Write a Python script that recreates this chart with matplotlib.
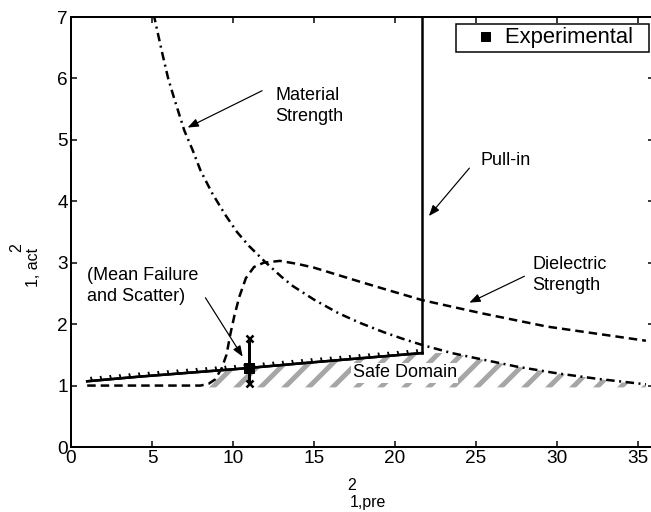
import matplotlib
matplotlib.use("Agg")
import matplotlib.pyplot as plt
import matplotlib.patheffects as pe
from matplotlib.lines import Line2D

plt.rcParams['font.family'] = ['Liberation Sans', 'DejaVu Sans']
plt.rcParams['hatch.linewidth'] = 5.0

# ---- data ----
material_x = [5.1, 5.6, 6.0, 6.4, 7.0, 7.5, 8.0, 8.7, 9.5, 10.25, 11.0, 12.0, 13.0,
              13.7, 15.0, 16.5, 17.85, 19.3, 20.5, 21.7, 23.5, 25.3, 27.5, 30.0, 32.5, 35.5]
material_y = [7.05, 6.45, 6.0, 5.65, 5.15, 4.84, 4.5, 4.14, 3.79, 3.5, 3.27, 3.01, 2.77,
              2.62, 2.4, 2.18, 2.02, 1.87, 1.76, 1.66, 1.53, 1.43, 1.31, 1.2, 1.11, 1.02]

dielectric_x = [1.0, 8.0, 8.5, 8.9, 9.3, 9.6, 9.85, 10.1, 10.4, 10.8, 11.3, 11.9, 12.9,
                14.0, 15.0, 17.85, 19.5, 21.7, 25.3, 29.4, 35.5]
dielectric_y = [1.0, 1.0, 1.03, 1.1, 1.28, 1.5, 1.85, 2.15, 2.45, 2.75, 2.93, 3.0, 3.03,
                2.98, 2.92, 2.69, 2.56, 2.39, 2.18, 1.96, 1.73]

ticked_x = [1.0, 4.2, 10.25, 15.0, 21.7]
ticked_y = [1.07, 1.145, 1.27, 1.38, 1.53]

pullin_x = [21.7, 21.7]
pullin_y = [1.53, 7.0]

exp_x = 11.0
exp_mean = 1.28
exp_min = 1.05
exp_max = 1.78

safe_x = [7.8, 8.5, 8.9, 9.3, 21.7, 23.5, 25.3, 27.5, 30.0, 32.5, 35.5]
safe_top = [1.0, 1.03, 1.1, 1.24, 1.53, 1.53, 1.43, 1.31, 1.2, 1.11, 1.0]
safe_bottom = 0.97

xticks = [0, 5, 10, 15, 20, 25, 30, 35]
yticks = [0, 1, 2, 3, 4, 5, 6, 7]

# ---- figure ----
W, H = 651, 512
fig = plt.figure(figsize=(W / 72, H / 72), dpi=72)
ax = fig.add_axes([71 / W, (H - 447) / H, 583 / W, 430 / H])
ax.set_xlim(0, 36)
ax.set_ylim(0, 7)

# safe domain hatch
ax.fill_between(safe_x, safe_bottom, safe_top, facecolor='none', edgecolor='#a6a6a6',
                hatch='/', linewidth=0, zorder=1)

LW = 2.5
# material strength (dash-dot)
ax.plot(material_x, material_y, color='black', lw=LW, dashes=(3.4, 1.8, 0.8, 1.8), zorder=3)
# dielectric strength (dashed)
ax.plot(dielectric_x, dielectric_y, color='black', lw=LW, dashes=(3.4, 2.0), zorder=3)
# pull-in
ax.plot(pullin_x, pullin_y, color='black', lw=LW, zorder=3)
# ticked curve
ax.plot(ticked_x, ticked_y, color='black', lw=LW, zorder=4,
        path_effects=[pe.Stroke(linewidth=LW, foreground='black'),
                      pe.withTickedStroke(spacing=9.5, angle=100, length=0.35, linewidth=1.8)])

# experimental
ax.plot([exp_x, exp_x], [exp_min, exp_max], color='black', lw=3, zorder=5)
ax.plot([exp_x, exp_x], [exp_min, exp_max], ls='none', marker='x', ms=7, mew=2.5,
        color='black', zorder=5)
ax.plot([exp_x], [exp_mean], ls='none', marker='s', ms=10, color='black', zorder=6)

# annotations
arrow = dict(arrowstyle='-|>,head_length=0.9,head_width=0.35', color='black', lw=1.2,
             shrinkA=0, shrinkB=0)
fs = 18
ax.text(12.6, 5.55, 'Material\nStrength', fontsize=fs, ha='left', va='center',
        linespacing=1.3)
ax.annotate('', xy=(7.2, 5.2), xytext=(11.8, 5.8), arrowprops=arrow)
ax.text(25.3, 4.66, 'Pull-in', fontsize=fs, ha='left', va='center')
ax.annotate('', xy=(22.1, 3.76), xytext=(24.6, 4.54), arrowprops=arrow)
ax.text(28.5, 2.8, 'Dielectric\nStrength', fontsize=fs, ha='left', va='center',
        linespacing=1.3)
ax.annotate('', xy=(24.6, 2.35), xytext=(28.0, 2.78), arrowprops=arrow)
ax.text(1.0, 2.62, '(Mean Failure\nand Scatter)', fontsize=fs, ha='left', va='center',
        linespacing=1.3)
ax.annotate('', xy=(10.6, 1.47), xytext=(8.3, 2.43), arrowprops=arrow)
ax.text(20.6, 1.21, 'Safe Domain', fontsize=fs, ha='center', va='center',
        bbox=dict(facecolor='white', edgecolor='none', pad=1.5), zorder=7)

# axes styling
ax.set_xticks(xticks)
ax.set_yticks(yticks)
ax.tick_params(direction='in', length=6, width=1.5, labelsize=19, top=True, right=True,
               pad=3)
for s in ax.spines.values():
    s.set_linewidth(2)

# axis labels (superscript / subscript parts)
fig.text(352 / W, 1 - 486 / H, '2', fontsize=16, ha='center', va='center')
fig.text(368 / W, 1 - 503 / H, '1,pre', fontsize=16, ha='center', va='center')
fig.text(17 / W, 1 - 248 / H, '2', fontsize=16, ha='center', va='center', rotation=90)
fig.text(34 / W, 1 - 267 / H, '1, act', fontsize=16, ha='center', va='center', rotation=90)

# legend
handle = Line2D([], [], ls='none', marker='s', ms=9, color='black')
leg = ax.legend([handle], ['Experimental  '], loc='upper right',
                bbox_to_anchor=(649 / W, 1 - 24 / H), bbox_transform=fig.transFigure,
                fontsize=22, frameon=True, fancybox=False, framealpha=1,
                edgecolor='black', borderaxespad=0, handlelength=2.3, handletextpad=-0.2,
                borderpad=0.15)
leg.get_frame().set_linewidth(1.5)

fig.savefig('out.png', dpi=72)
